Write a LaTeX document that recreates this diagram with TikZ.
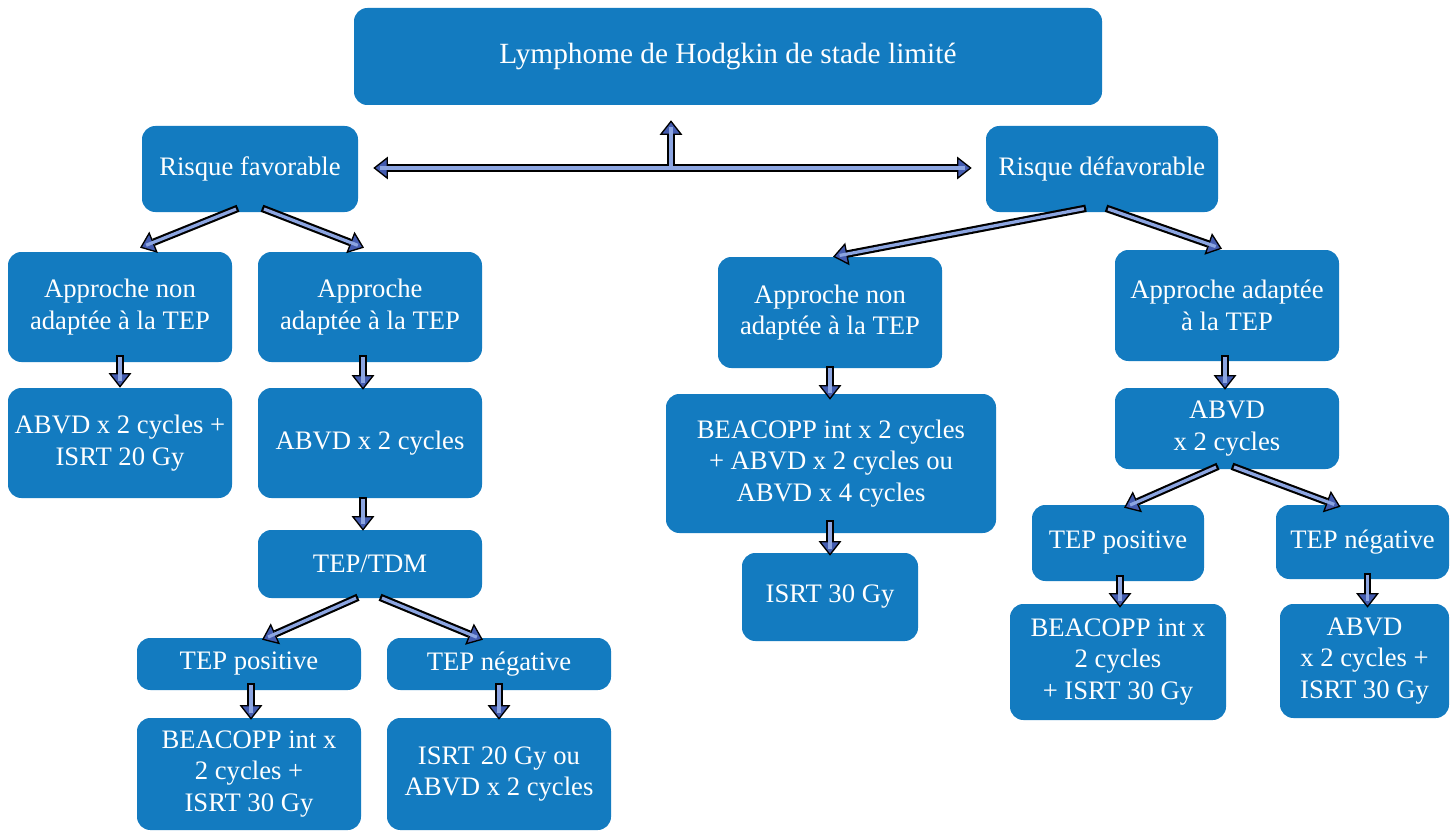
\documentclass[tikz,border=0pt]{standalone}
\usepackage{fontspec}
\setmainfont{Liberation Serif}
\usetikzlibrary{arrows.meta,calc}
\definecolor{boxblue}{RGB}{19,123,192}
\definecolor{tipblue}{RGB}{68,92,176}
\definecolor{shaftlight}{RGB}{140,165,225}
\tikzset{
  box/.style={fill=boxblue, draw=none, rounded corners=10pt, inner sep=0pt,
    text=white, align=center, font=\fontsize{20}{23.5}\selectfont},
  tipline/.style={line width=1pt, black, -{Triangle[length=11pt,width=17pt,fill=tipblue]}},
  shaftout/.style={line width=5.6pt, black},
  shaftin/.style={line width=2.4pt, shaftlight},
}
\newcommand\flowar[2]{%
  \draw[tipline] (#1) -- (#2);
  \draw[shaftout, shorten >=11pt] (#1) -- (#2);
  \draw[shaftin, shorten >=5pt, shorten <=1.6pt] (#1) -- (#2);
}
% \bx{name}{x1}{y1}{x2}{y2}{text}
\newcommand\bx[6]{%
  \node[box, minimum width={(#4-#2)*0.75pt}, minimum height={(#5-#3)*0.75pt}]
    (#1) at ({(#2+#4)/2},{(#3+#5)/2}) {#6};
}
\begin{document}
\begin{tikzpicture}[x=0.75pt, y=-0.75pt]
\useasboundingbox (0,0) rectangle (1455,831);
% boxes
\node[box, font=\fontsize{22}{26}\selectfont, minimum width={748*0.75pt}, minimum height={97*0.75pt}] (title) at (728,56.5) {Lymphome de Hodgkin de stade limité};
\bx{rf}{142}{126}{358}{212}{Risque favorable}
\bx{rd}{986}{126}{1218}{212}{Risque défavorable}
\bx{anl}{8}{252}{232}{362}{Approche non\\adaptée à la TEP}
\bx{apl}{258}{252}{482}{362}{Approche\\adaptée à la TEP}
\bx{abvdA}{8}{388}{232}{498}{ABVD x 2 cycles +\\ISRT 20 Gy}
\bx{abvdB}{258}{388}{482}{498}{ABVD x 2 cycles}
\bx{tdm}{258}{530}{482}{598}{TEP/TDM}
\bx{tpl}{137}{638}{361}{690}{TEP positive}
\bx{tnl}{387}{638}{611}{690}{TEP négative}
\bx{beal}{137}{718}{361}{830}{BEACOPP int x\\2 cycles +\\ISRT 30 Gy}
\bx{isrl}{387}{718}{611}{830}{ISRT 20 Gy ou\\ABVD x 2 cycles}
\bx{anm}{718}{257}{942}{368}{Approche non\\adaptée à la TEP}
\bx{beam}{666}{394}{996}{533}{BEACOPP int x 2 cycles\\+ ABVD x 2 cycles ou\\ABVD x 4 cycles}
\bx{isrm}{742}{553}{918}{641}{ISRT 30 Gy}
\bx{apr}{1115}{250}{1339}{361}{Approche adaptée\\à la TEP}
\bx{abvdr}{1115}{388}{1339}{469}{ABVD\\x 2 cycles}
\bx{tpr}{1032}{505}{1204}{581}{TEP positive}
\bx{tnr}{1276}{505}{1449}{579}{TEP négative}
\bx{bear}{1010}{604}{1226}{720}{BEACOPP int x\\2 cycles\\+ ISRT 30 Gy}
\bx{abvr}{1280}{604}{1449}{718}{ABVD\\x 2 cycles +\\ISRT 30 Gy}
% hub arrow (double-headed + up)
\coordinate (hub) at (671,168);
\coordinate (hubtop) at (671,165);
\coordinate (lt) at ($(rf.east)+(15,-1)$);
\coordinate (rt) at ($(rd.west)+(-14,-1)$);
\coordinate (up) at ($(title.south)+(-57,15)$);
\draw[tipline] (hub) -- (lt);
\draw[tipline] (hub) -- (rt);
\draw[tipline] (hubtop) -- (up);
\draw[shaftout, shorten >=11pt] (hubtop) -- (up);
\draw[shaftout, shorten >=11pt] (hub) -- (lt);
\draw[shaftout, shorten >=11pt] (hub) -- (rt);
\draw[shaftin, shorten >=5pt] (hub) -- (up);
\draw[shaftin, shorten >=5pt] (hub) -- (lt);
\draw[shaftin, shorten >=5pt] (hub) -- (rt);
% other arrows
\flowar{$(rf.south)+(-12,-4)$}{$(anl.north)+(20,-4)$}
\flowar{$(rf.south)+(12,-4)$}{$(apl.north)+(-6,-4)$}
\flowar{$(rd.south)+(-16,-4)$}{$(anm.north)+(3,0)$}
\flowar{$(rd.south)+(4,-4)$}{$(apr.north)+(-5,-1)$}
\flowar{$(anl.south)+(0,-7)$}{$(abvdA.north)+(0,0)$}
\flowar{$(apl.south)+(-7,-7)$}{$(abvdB.north)+(-7,2)$}
\flowar{$(abvdB.south)+(-7,-1)$}{$(tdm.north)+(-7,1)$}
\flowar{$(tdm.south)+(-12,-1)$}{$(tpl.north)+(13,2)$}
\flowar{$(tdm.south)+(10,-1)$}{$(tnl.north)+(-16,2)$}
\flowar{$(tpl.south)+(2,-7)$}{$(beal.north)+(2,2)$}
\flowar{$(tnl.south)+(0,-7)$}{$(isrl.north)+(0,2)$}
\flowar{$(anm.south)+(0,-2)$}{$(beam.north)+(-1,6)$}
\flowar{$(beam.south)+(-1,-13)$}{$(isrm.north)+(0,3)$}
\flowar{$(apr.south)+(-2,-6)$}{$(abvdr.north)+(-2,2)$}
\flowar{$(abvdr.south)+(-9,-3)$}{$(tpr.north)+(6,3)$}
\flowar{$(abvdr.south)+(5,-3)$}{$(tnr.north)+(-22,2)$}
\flowar{$(tpr.south)+(2,-6)$}{$(bear.north)+(2,4)$}
\flowar{$(tnr.south)+(5,-6)$}{$(abvr.north)+(3,4)$}
\end{tikzpicture}
\end{document}
